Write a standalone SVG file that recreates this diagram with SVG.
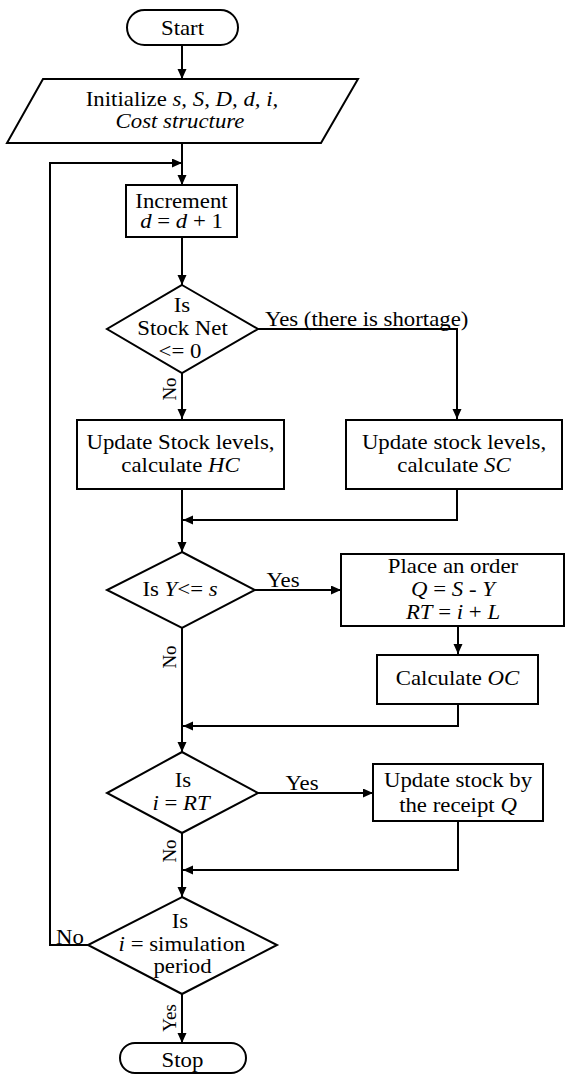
<svg xmlns="http://www.w3.org/2000/svg" width="568" height="1075" viewBox="0 0 568 1075">
  <style>
    .shape { fill: #fff; stroke: #000; stroke-width: 2; }
    .wire { fill: none; stroke: #000; stroke-width: 2; marker-end: url(#head); }
    .wire-plain { fill: none; stroke: #000; stroke-width: 2; }
    text { font-family: "Liberation Serif", "Times New Roman", serif; font-size: 20px; fill: #000; text-anchor: middle; }
    .lbl { font-size: 19px; }
    .it { font-style: italic; }
    .left { text-anchor: start; }
  </style>
  <defs>
    <marker id="head" markerUnits="userSpaceOnUse" markerWidth="11" markerHeight="10" refX="10" refY="4.5" orient="auto">
      <path d="M0,0 L10,4.5 L0,9 Z" fill="#000"/>
    </marker>
  </defs>
  <rect width="568" height="1075" fill="#fff"/>

  <!-- connectors -->
  <g id="connectors">
    <path class="wire" d="M182,45 V79"/>
    <path class="wire" d="M182,143 V185"/>
    <path class="wire" d="M88,945 H50 V163 H182"/>
    <path class="wire" d="M182,237 V285"/>
    <path class="wire" d="M258,329 H457 V419"/>
    <path class="wire" d="M182,373 V419"/>
    <path class="wire" d="M182,489 V552"/>
    <path class="wire" d="M457,489 V520 H183"/>
    <path class="wire" d="M255,590 H341"/>
    <path class="wire" d="M182,628 V752"/>
    <path class="wire" d="M458,626 V654"/>
    <path class="wire" d="M458,704 V726 H183"/>
    <path class="wire" d="M258,793 H373"/>
    <path class="wire" d="M182,833 V897"/>
    <path class="wire" d="M458,821 V870 H183"/>
    <path class="wire" d="M182,994 V1043"/>

    <!-- branch labels -->
    <text class="left" transform="translate(265,326) scale(1.14 1)">Yes (there is shortage)</text>
    <text class="lbl" transform="translate(176,389) rotate(-90)">No</text>
    <text transform="translate(283,587) scale(1.14 1)">Yes</text>
    <text class="lbl" transform="translate(176,657) rotate(-90)">No</text>
    <text transform="translate(302,790) scale(1.14 1)">Yes</text>
    <text class="lbl" transform="translate(176,851) rotate(-90)">No</text>
    <text transform="translate(70,944) scale(1.14 1)">No</text>
    <text class="lbl" transform="translate(176,1018) rotate(-90)">Yes</text>
  </g>

  <g id="start">
    <rect class="shape" x="127" y="10" width="111" height="35" rx="17.5"/>
    <text transform="translate(182.5,35) scale(1.14 1)">Start</text>
  </g>

  <g id="initialize">
    <polygon class="shape" points="43,79 358,79 321,143 7,143"/>
    <text transform="translate(182,106) scale(1.14 1)">Initialize <tspan class="it">s, S, D, d, i,</tspan></text>
    <text class="it" transform="translate(180,128) scale(1.14 1)">Cost structure</text>
  </g>

  <g id="increment">
    <rect class="shape" x="126" y="185" width="111" height="52"/>
    <text transform="translate(181.5,208) scale(1.14 1)">Increment</text>
    <text transform="translate(181.5,228) scale(1.14 1)"><tspan class="it">d</tspan> = <tspan class="it">d</tspan> + 1</text>
  </g>

  <g id="check-stock">
    <polygon class="shape" points="182,285 258,329 182,373 107,329"/>
    <text transform="translate(182,312) scale(1.14 1)">Is</text>
    <text transform="translate(182.5,335) scale(1.14 1)">Stock Net</text>
    <text transform="translate(180,358) scale(1.14 1)">&lt;= 0</text>
  </g>

  <g id="update-hc">
    <rect class="shape" x="77" y="420" width="207" height="69"/>
    <text transform="translate(180.5,449) scale(1.14 1)">Update Stock levels,</text>
    <text transform="translate(180.5,472) scale(1.14 1)">calculate <tspan class="it">HC</tspan></text>
  </g>

  <g id="update-sc">
    <rect class="shape" x="346" y="420" width="216" height="69"/>
    <text transform="translate(454,449) scale(1.14 1)">Update stock levels,</text>
    <text transform="translate(454,472) scale(1.14 1)">calculate <tspan class="it">SC</tspan></text>
  </g>

  <g id="check-reorder">
    <polygon class="shape" points="182,552 255,590 182,628 107,590"/>
    <text transform="translate(180,596) scale(1.14 1)">Is <tspan class="it">Y</tspan>&lt;= <tspan class="it">s</tspan></text>
  </g>

  <g id="place-order">
    <rect class="shape" x="341" y="554" width="223" height="72"/>
    <text transform="translate(453,573) scale(1.14 1)">Place an order</text>
    <text transform="translate(453,596) scale(1.14 1)"><tspan class="it">Q</tspan> = <tspan class="it">S</tspan> - <tspan class="it">Y</tspan></text>
    <text transform="translate(453,619) scale(1.14 1)"><tspan class="it">RT</tspan> = <tspan class="it">i</tspan> + <tspan class="it">L</tspan></text>
  </g>

  <g id="calc-oc">
    <rect class="shape" x="377" y="655" width="161" height="49"/>
    <text transform="translate(457.5,685) scale(1.14 1)">Calculate <tspan class="it">OC</tspan></text>
  </g>

  <g id="check-receipt">
    <polygon class="shape" points="182,752 258,793 182,833 107,793"/>
    <text transform="translate(183,787) scale(1.14 1)">Is</text>
    <text transform="translate(181,810) scale(1.14 1)"><tspan class="it">i</tspan> = <tspan class="it">RT</tspan></text>
  </g>

  <g id="receive">
    <rect class="shape" x="373" y="764" width="170" height="57"/>
    <text transform="translate(458,787) scale(1.14 1)">Update stock by</text>
    <text transform="translate(458,812) scale(1.14 1)">the receipt <tspan class="it">Q</tspan></text>
  </g>

  <g id="check-end">
    <polygon class="shape" points="182,897 277,945 182,994 88,945"/>
    <text transform="translate(180,928) scale(1.14 1)">Is</text>
    <text transform="translate(182,951) scale(1.14 1)"><tspan class="it">i</tspan> = simulation</text>
    <text transform="translate(182.5,973) scale(1.14 1)">period</text>
  </g>

  <g id="stop">
    <rect class="shape" x="120" y="1043" width="126" height="30" rx="15"/>
    <text transform="translate(182.5,1067) scale(1.14 1)">Stop</text>
  </g>
</svg>
